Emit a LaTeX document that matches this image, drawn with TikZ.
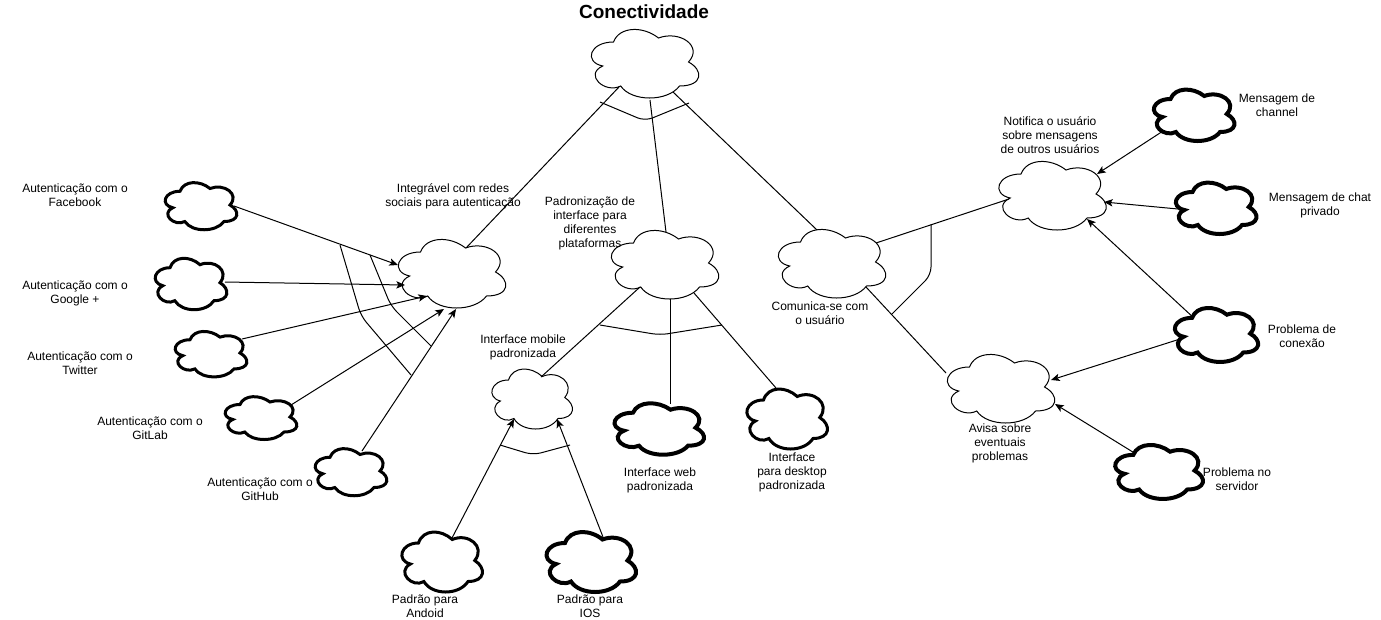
\documentclass[tikz,border=0pt]{standalone}
\usepackage{fontspec}
\setmainfont{Liberation Sans}
\usetikzlibrary{arrows.meta}
\newcommand{\contornonuvem}{(-0.25,-0.25) .. controls (-0.45,-0.25) and (-0.5,0) .. (-0.34,0.05)
    .. controls (-0.5,0.16) and (-0.32,0.4) .. (-0.19,0.3)
    .. controls (-0.1,0.5) and (0.2,0.5) .. (0.3,0.3)
    .. controls (0.5,0.3) and (0.5,0.1) .. (0.375,0)
    .. controls (0.5,-0.2) and (0.3,-0.4) .. (0.125,-0.3)
    .. controls (0,-0.45) and (-0.2,-0.45) .. (-0.25,-0.25) -- cycle}
\tikzset{
    nuvem/.style n args={3}{rectangle, inner sep=0pt, minimum width=#1*0.75pt, minimum height=#2*0.75pt,
        path picture={\draw [line width=#3, x=#1*0.75pt, y=-#2*0.75pt] \contornonuvem;}},
    fina/.style 2 args={nuvem={#1}{#2}{0.75pt}},
    grossa/.style 2 args={nuvem={#1}{#2}{2.25pt}},
    pesada/.style 2 args={nuvem={#1}{#2}{3pt}},
    rotulo/.style={align=center, font=\fontsize{9}{10.5}\selectfont, inner sep=0pt},
    liga/.style={line width=0.75pt},
    seta/.style={liga, ->},
    barra/.style={line width=0.75pt, rounded corners=6pt}
}

\begin{document}
\begin{tikzpicture}[x=0.75pt, y=-0.75pt, >={Stealth[length=6.5pt,width=5.5pt,inset=1.5pt]}]
    \useasboundingbox (0,0) rectangle (1381,619);

    % Nodes
    \node [rotulo, font=\bfseries\fontsize{14.25}{17}\selectfont] (titulo) at (644,12) {Conectividade};
    \node [fina={120}{80}] (raiz) at (643.5,62) {};
    \node [fina={120}{80}] (redes) at (450.5,272) {};
    \node [fina={120}{80}] (padrao) at (663.5,263) {};
    \node [fina={120}{80}] (comunica) at (830.5,262) {};
    \node [fina={120}{80}] (notifica) at (1051,194) {};
    \node [fina={120}{80}] (avisa) at (999.5,387) {};
    \node [fina={90}{70}] (mobile) at (531,397.5) {};

    \node [grossa={80}{55}] (facebook) at (200,205) {};
    \node [grossa={80}{60}] (google) at (190,282.7) {};
    \node [grossa={80}{53}] (twitter) at (210,353) {};
    \node [grossa={80}{50}] (gitlab) at (260,417) {};
    \node [grossa={80}{55}] (github) at (350,471) {};

    \node [pesada={100}{60}] (web) at (658,427.7) {};
    \node [grossa={90}{70}] (desktop) at (786,417.5) {};
    \node [grossa={90}{70}] (android) at (441,560.5) {};
    \node [pesada={100}{70}] (ios) at (590,560.5) {};
    \node [pesada={90}{60}] (channel) at (1193,114) {};
    \node [pesada={90}{60}] (chat) at (1215,207) {};
    \node [pesada={93}{63}] (conexao) at (1215.3,333.6) {};
    \node [pesada={98}{63}] (servidor) at (1157.8,470.6) {};

    % Labels
    \node [rotulo] (lfacebook) at (75,195) {Autenticação com o\\Facebook};
    \node [rotulo] (lgoogle) at (75,293) {Autenticação com o\\Google +};
    \node [rotulo] (ltwitter) at (80,363) {Autenticação com o\\Twitter};
    \node [rotulo] (lgitlab) at (150,428) {Autenticação com o\\GitLab};
    \node [rotulo] (lgithub) at (260,489) {Autenticação com o\\GitHub};
    \node [rotulo] (lredes) at (453,196) {Integrável com redes\\sociais para autenticação};
    \node [rotulo] (lpadrao) at (590,223) {Padronização de\\interface para\\diferentes\\plataformas};
    \node [rotulo] (lmobile) at (523,347) {Interface mobile\\padronizada};
    \node [rotulo] (lweb) at (660,480) {Interface web\\padronizada};
    \node [rotulo] (ldesktop) at (792,472) {Interface\\para desktop\\padronizada};
    \node [rotulo] (landroid) at (425,606) {Padrão para\\Andoid};
    \node [rotulo] (lios) at (590,606) {Padrão para\\IOS};
    \node [rotulo] (lcomunica) at (820,313) {Comunica-se com\\o usuário};
    \node [rotulo] (lnotifica) at (1050,135) {Notifica o usuário\\sobre mensagens\\de outros usuários};
    \node [rotulo] (lchannel) at (1277,105) {Mensagem de\\channel};
    \node [rotulo] (lchat) at (1320,205) {Mensagem de chat\\privado};
    \node [rotulo] (lconexao) at (1302,336) {Problema de\\conexão};
    \node [rotulo] (lavisa) at (1000,443) {Avisa sobre\\eventuais\\problemas};
    \node [rotulo] (lservidor) at (1237,479) {Problema no\\servidor};

    % Connections
    \draw [liga] ([shift={(-24.5,25)}]raiz.center) -- ([shift={(15.5,-24)}]redes.center);
    \draw [liga] ([shift={(6.5,38)}]raiz.center) -- ([shift={(2.5,-31)}]padrao.center);
    \draw [liga] ([shift={(29.5,30)}]raiz.center) -- ([shift={(-13.5,-32)}]comunica.center);
    \draw [liga] ([shift={(45.5,-19)}]comunica.center) -- ([shift={(-42,5)}]notifica.center);
    \draw [liga] ([shift={(35.5,25)}]comunica.center) -- ([shift={(-53.5,-14)}]avisa.center);
    \draw [liga] ([shift={(-23.5,24)}]padrao.center) -- ([shift={(10,-20.5)}]mobile.center);
    \draw [liga] ([shift={(6.5,36)}]padrao.center) -- ([shift={(12,-24)}]web.center);
    \draw [liga] ([shift={(30.5,30)}]padrao.center) -- ([shift={(-10,-29.5)}]desktop.center);

    \draw [seta] ([shift={(11,-22.5)}]android.center) -- ([shift={(-17,21.5)}]mobile.center);
    \draw [seta] ([shift={(13,-23.5)}]ios.center) -- ([shift={(26,21.5)}]mobile.center);
    \draw [seta] ([shift={(34,1)}]facebook.center) -- ([shift={(-52.5,-7)}]redes.center);
    \draw [seta] ([shift={(35,-0.7)}]google.center) -- ([shift={(-45.5,13)}]redes.center);
    \draw [seta] ([shift={(32,-14)}]twitter.center) -- ([shift={(-23.5,24)}]redes.center);
    \draw [seta] ([shift={(31,-12)}]gitlab.center) -- ([shift={(-6.5,37)}]redes.center);
    \draw [seta] ([shift={(12,-20)}]github.center) -- ([shift={(5.5,37)}]redes.center);
    \draw [seta] ([shift={(-30,17)}]channel.center) -- ([shift={(46,-20)}]notifica.center);
    \draw [seta] ([shift={(-37,2)}]chat.center) -- ([shift={(53,8)}]notifica.center);
    \draw [seta] ([shift={(-24,-18)}]conexao.center) -- ([shift={(36,25)}]notifica.center);
    \draw [seta] ([shift={(-34,5)}]conexao.center) -- ([shift={(51.5,-7)}]avisa.center);
    \draw [seta] ([shift={(-24,-18)}]servidor.center) -- ([shift={(55.5,17)}]avisa.center);

    % Bars
    \coordinate (r1) at (600,102);
    \coordinate (r2) at (645,121);
    \coordinate (r3) at (689,103);
    \coordinate (p1) at (600,325);
    \coordinate (p2) at (660,335);
    \coordinate (p3) at (722,325);
    \coordinate (m1) at (500,445);
    \coordinate (m2) at (533,455);
    \coordinate (m3) at (570,445);
    \coordinate (a1) at (340,245);
    \coordinate (a2) at (361,316);
    \coordinate (a3) at (411,375);
    \coordinate (b1) at (370,255);
    \coordinate (b2) at (391,306);
    \coordinate (b3) at (431,346);
    \coordinate (c1) at (931,224);
    \coordinate (c2) at (931,275);
    \coordinate (c3) at (892,314);
    \draw [barra] (r1) -- (r2) -- (r3);
    \draw [barra] (p1) -- (p2) -- (p3);
    \draw [barra] (m1) -- (m2) -- (m3);
    \draw [barra] (a1) -- (a2) -- (a3);
    \draw [barra] (b1) -- (b2) -- (b3);
    \draw [barra] (c1) -- (c2) -- (c3);

\end{tikzpicture}
\end{document}
